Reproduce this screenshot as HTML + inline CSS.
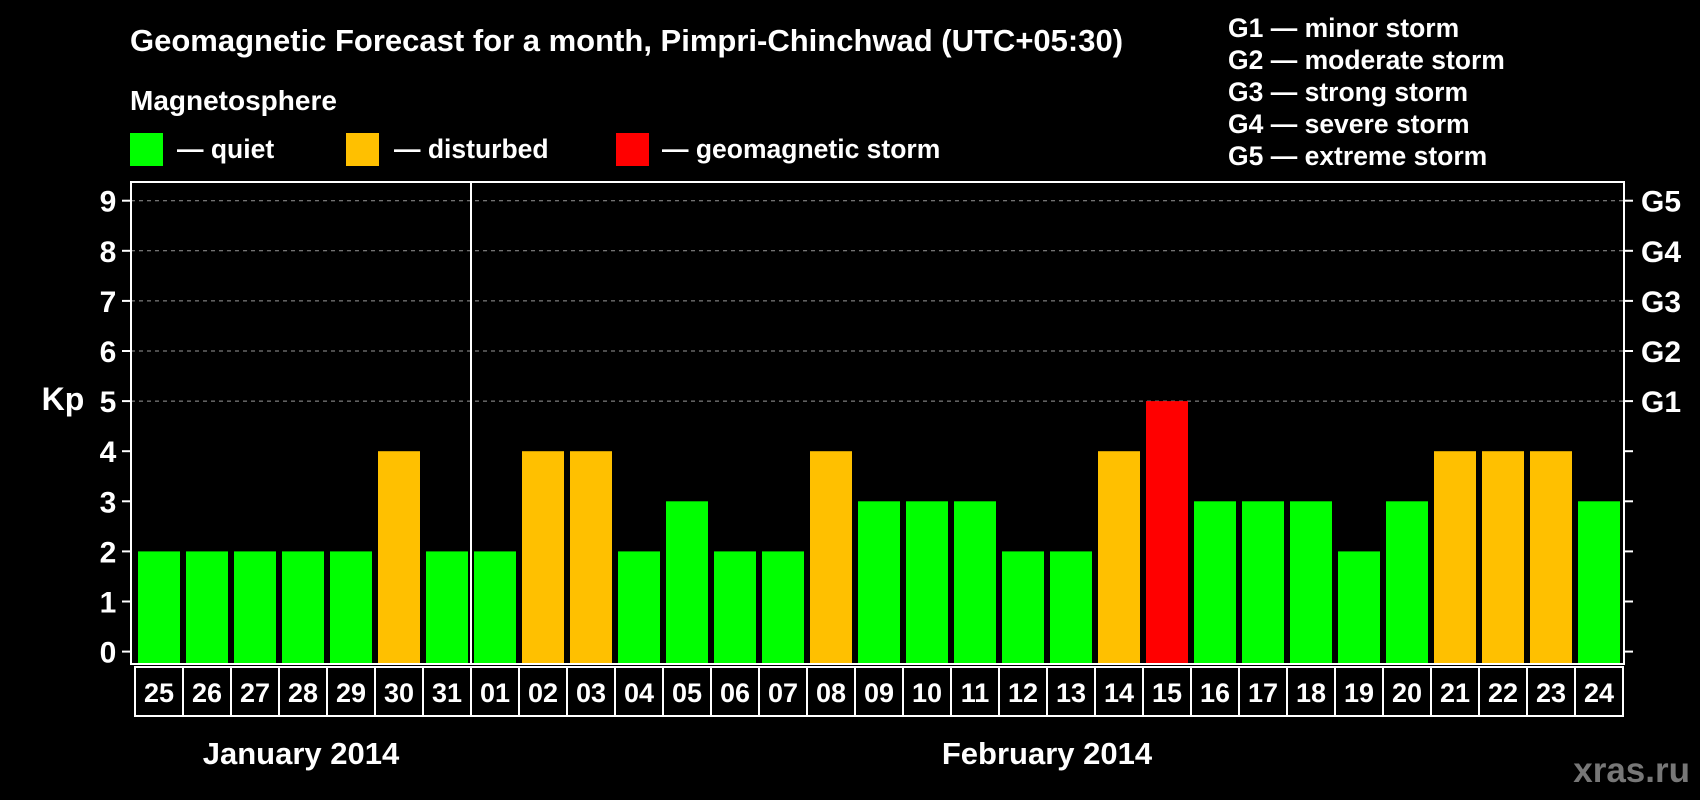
<!DOCTYPE html>
<html><head><meta charset="utf-8"><style>
html,body{margin:0;padding:0;background:#000;}
svg{display:block;font-family:"Liberation Sans",Arial,sans-serif;font-weight:bold;}
</style></head><body>
<svg id="chart" width="1700" height="800" viewBox="0 0 1700 800" xmlns="http://www.w3.org/2000/svg">
<rect width="1700" height="800" fill="#000"/>
<text x="130" y="51" fill="#fff" font-size="31">Geomagnetic Forecast for a month, Pimpri-Chinchwad (UTC+05:30)</text>
<text x="130" y="110" fill="#fff" font-size="28">Magnetosphere</text>
<g><rect x="130" y="133" width="33" height="33" fill="#00ff00"/><text x="177" y="158" fill="#fff" font-size="26.5">— quiet</text></g>
<g><rect x="346" y="133" width="33" height="33" fill="#ffc000"/><text x="394" y="158" fill="#fff" font-size="26.5">— disturbed</text></g>
<g><rect x="616" y="133" width="33" height="33" fill="#ff0000"/><text x="662" y="158" fill="#fff" font-size="26.5">— geomagnetic storm</text></g>
<g fill="#fff" font-size="26.5">
<text x="1228" y="37">G1 — minor storm</text>
<text x="1228" y="69">G2 — moderate storm</text>
<text x="1228" y="101">G3 — strong storm</text>
<text x="1228" y="133">G4 — severe storm</text>
<text x="1228" y="165">G5 — extreme storm</text>
</g>
<text x="63" y="410" fill="#fff" font-size="32" text-anchor="middle">Kp</text>
<g id="grid"></g><g id="bars"></g><g id="axes"></g>
<text x="301" y="764" fill="#fff" font-size="31" text-anchor="middle">January 2014</text>
<text x="1047" y="764" fill="#fff" font-size="31" text-anchor="middle">February 2014</text>
<text x="1690" y="782" fill="#777" font-size="35" text-anchor="end">xras.ru</text>
</svg>
<script>
const days = ["25","26","27","28","29","30","31","01","02","03","04","05","06","07","08","09","10","11","12","13","14","15","16","17","18","19","20","21","22","23","24"];
const kp = [2,2,2,2,2,4,2,2,4,4,2,3,2,2,4,3,3,3,2,2,4,5,3,3,3,2,3,4,4,4,3];
const yTicks = [0,1,2,3,4,5,6,7,8,9];
const gLabels = ["G1","G2","G3","G4","G5"];
const gLevels = [5,6,7,8,9];
const NS="http://www.w3.org/2000/svg";
const L=131,R=1624,T=182,B=664,x0=138,pitch=48,bw=42;
const y=v=>651.6-v*50.1;
const x=i=>x0+i*pitch;
function mk(tag,attrs,parent,txt){const e=document.createElementNS(NS,tag);for(const k in attrs)e.setAttribute(k,attrs[k]);if(txt!==undefined)e.textContent=txt;parent.appendChild(e);return e;}
const grid=document.getElementById('grid'),bars=document.getElementById('bars'),axes=document.getElementById('axes');
yTicks.forEach(v=>{
  if(v>=5){const g=mk('line',{x1:L,x2:R,y1:y(v),y2:y(v),stroke:'#999','stroke-dasharray':'4,4','stroke-width':1},grid);
  
  }
  mk('line',{x1:L-9,x2:L,y1:y(v),y2:y(v),stroke:'#fff','stroke-width':2},axes);
  mk('line',{x1:R,x2:R+9,y1:y(v),y2:y(v),stroke:'#fff','stroke-width':2},axes);
  const t=mk('text',{x:108,y:y(v)+11,fill:'#fff','font-size':30,'text-anchor':'middle'},axes,String(v));
  
  
});
gLabels.forEach((g,i)=>{
  const t=mk('text',{x:1641,y:y(gLevels[i])+11,fill:'#fff','font-size':30},axes,g);
  
  
});
kp.forEach((v,i)=>{
  const c=v>=5?'#ff0000':(v>=4?'#ffc000':'#00ff00');
  const b=mk('rect',{x:x(i),y:y(v),width:bw,height:B-y(v),fill:c},bars);
  
  
  const cell=mk('rect',{x:x(i)-3,y:B+3,width:pitch,height:49,fill:'none',stroke:'#fff','stroke-width':2},axes);
  
  
  const t=mk('text',{x:x(i)+bw/2,y:B+38,fill:'#fff','font-size':27,'text-anchor':'middle'},axes,days[i]);
  
  
});
const fr=mk('rect',{x:L,y:T,width:R-L,height:B-T,fill:'none',stroke:'#fff','stroke-width':2},axes);


const dv=mk('line',{x1:x(7)-3,x2:x(7)-3,y1:T,y2:B,stroke:'#fff','stroke-width':2},axes);


</script>
</body></html>
